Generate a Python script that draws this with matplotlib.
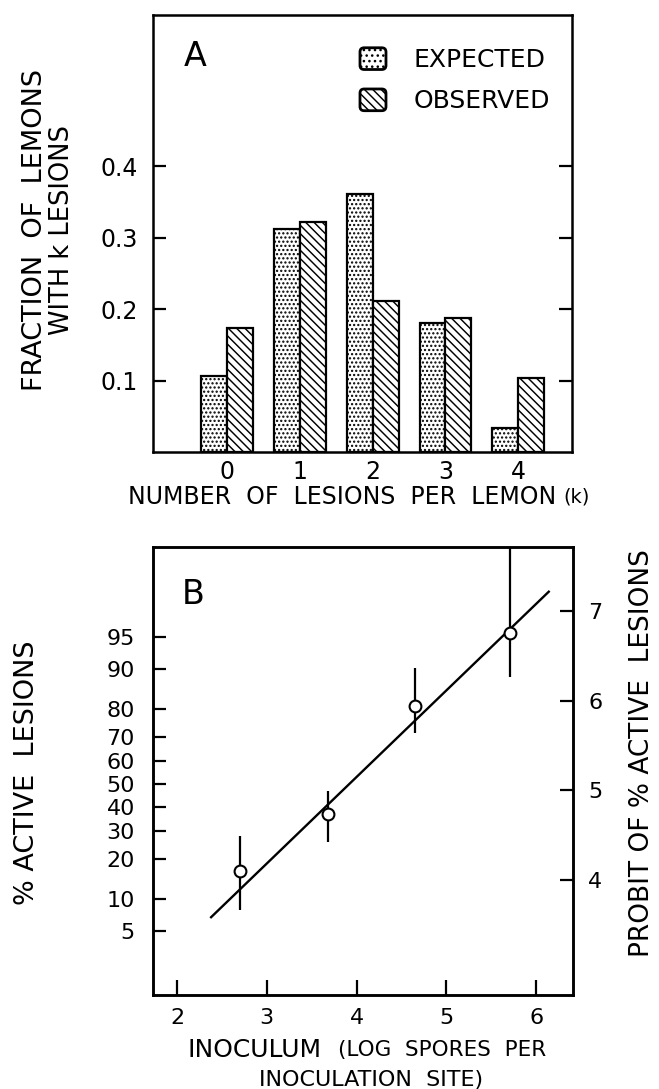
import matplotlib
matplotlib.use("Agg")
import matplotlib.pyplot as plt
from matplotlib.patches import Patch, FancyBboxPatch
from matplotlib.legend_handler import HandlerPatch
from statistics import NormalDist
import numpy as np

# --- Panel A: lesions per lemon ---
lesions_k = [0, 1, 2, 3, 4]
frac_expected = [0.107, 0.312, 0.361, 0.180, 0.034]
frac_observed = [0.174, 0.322, 0.212, 0.188, 0.103]
a_yticks = [0.1, 0.2, 0.3, 0.4]

# --- Panel B: % active lesions vs inoculum ---
inoculum_log = [2.70, 3.68, 4.65, 5.71]
pct_active = [16.4, 36.7, 80.8, 95.4]
pct_low = [7.9, 25.8, 71.6, 88.5]
pct_high = [28.0, 46.8, 90.3, 99.8]
fit_x = [2.38, 6.14]
fit_probit = [3.51, 7.15]
pct_ticks = [5, 10, 20, 30, 40, 50, 60, 70, 80, 90, 95]
probit_ticks = [4, 5, 6, 7]
b_xticks = [2, 3, 4, 5, 6]

DOTS = "...."
STRIPES = "\\\\\\\\"


def probit(p):
    return 5 + NormalDist().inv_cdf(p / 100.0)


class RoundBox(HandlerPatch):
    def create_artists(self, legend, orig_handle, xdescent, ydescent,
                       width, height, fontsize, trans):
        p = FancyBboxPatch((-xdescent, -ydescent), width, height,
                           boxstyle="round,pad=0,rounding_size=3",
                           facecolor="white", edgecolor="black",
                           hatch=orig_handle.get_hatch(), lw=2)
        p.set_transform(trans)
        return [p]


plt.rcParams["font.family"] = "DejaVu Sans"
plt.rcParams["hatch.linewidth"] = 1.05

W, H = 659, 1089
fig = plt.figure(figsize=(W / 100, H / 100), dpi=100)


def px_axes(l, t, r, b):
    return fig.add_axes([l / W, 1 - b / H, (r - l) / W, (b - t) / H])


def ftext(x, y, s, **kw):
    kw.setdefault("ha", "center")
    kw.setdefault("va", "center")
    fig.text(x / W, 1 - y / H, s, **kw)


# Panel A
axA = px_axes(153, 15, 572, 452)
w = 0.355
x = np.array(lesions_k)
axA.bar(x - w / 2, frac_expected, w, facecolor="white", edgecolor="black",
        hatch=DOTS, lw=1.6)
axA.bar(x + w / 2, frac_observed, w, facecolor="white", edgecolor="black",
        hatch=STRIPES, lw=1.6)
axA.set_xlim(-1.02, 4.74)
axA.set_ylim(0, 0.612)
axA.set_xticks(lesions_k)
axA.set_xticklabels([str(k) for k in lesions_k])
axA.set_yticks(a_yticks)
axA.set_yticklabels(["0.1", "0.2", "0.3", "0.4"])
axA.tick_params(axis="x", length=0, pad=6, labelsize=17)
axA.tick_params(axis="y", direction="in", length=9.5, width=1.6, pad=11,
                labelsize=17)
axA.tick_params(axis="y", right=True)
for s in axA.spines.values():
    s.set_linewidth(1.8)

handles = [Patch(facecolor="white", edgecolor="black", hatch="..."),
           Patch(facecolor="white", edgecolor="black", hatch=STRIPES)]
axA.legend(handles, ["EXPECTED", "OBSERVED"], loc="upper left",
           bbox_to_anchor=(0.494, 0.925), frameon=False, fontsize=18,
           handlelength=1.04, handleheight=0.96, handletextpad=1.12,
           labelspacing=0.67, borderpad=0, borderaxespad=0,
           handler_map={Patch: RoundBox()})

ftext(195, 57, "A", fontsize=24)
ftext(35, 230, "FRACTION  OF  LEMONS", rotation=90, fontsize=19.5)
ftext(62, 230, "WITH k LESIONS", rotation=90, fontsize=18.5)
ftext(342, 497, "NUMBER  OF  LESIONS  PER  LEMON", fontsize=17)
ftext(563, 497, "(k)", fontsize=14, ha="left")

# Panel B
axB = px_axes(153, 547, 573, 995)
pb = np.array([probit(p) for p in pct_active])
lo = np.array([probit(p) for p in pct_low])
hi = np.array([probit(p) for p in pct_high])
axB.plot(fit_x, fit_probit, color="black", lw=1.7, zorder=2)
axB.errorbar(inoculum_log, pb, yerr=[pb - lo, hi - pb], fmt="none",
             ecolor="black", elinewidth=1.6, capsize=0, zorder=2)
axB.plot(inoculum_log, pb, "o", ms=8.5, mfc="white", mec="black", mew=1.5,
         zorder=4)
axB.set_xlim(1.733, 6.41)
axB.set_ylim(2.64, 7.65)
axB.set_xticks(b_xticks)
axB.set_yticks([probit(p) for p in pct_ticks])
axB.set_yticklabels([str(p) for p in pct_ticks])
axB.tick_params(axis="y", direction="in", length=9, width=1.6, pad=13,
                labelsize=16)
axB.tick_params(axis="x", direction="in", length=11, width=1.6, pad=9,
                labelsize=16)
for s in axB.spines.values():
    s.set_linewidth(1.8)

axR = axB.twinx()
axR.set_ylim(2.64 + 0.07, 7.65 + 0.07)
axR.set_yticks(probit_ticks)
axR.tick_params(direction="in", length=9.5, width=1.6, pad=11, labelsize=16)
for s in axR.spines.values():
    s.set_linewidth(1.8)

ftext(193, 594, "B", fontsize=24)
ftext(27, 773, "% ACTIVE  LESIONS", rotation=90, fontsize=19.5)
ftext(642, 753, "PROBIT OF % ACTIVE  LESIONS", rotation=90, fontsize=19)
ftext(322, 1050, "INOCULUM", fontsize=18, ha="right")
ftext(338, 1050, "(LOG  SPORES  PER", fontsize=15.5, ha="left")
ftext(371, 1080, "INOCULATION  SITE)", fontsize=16)

fig.savefig("out.png", dpi=100)
